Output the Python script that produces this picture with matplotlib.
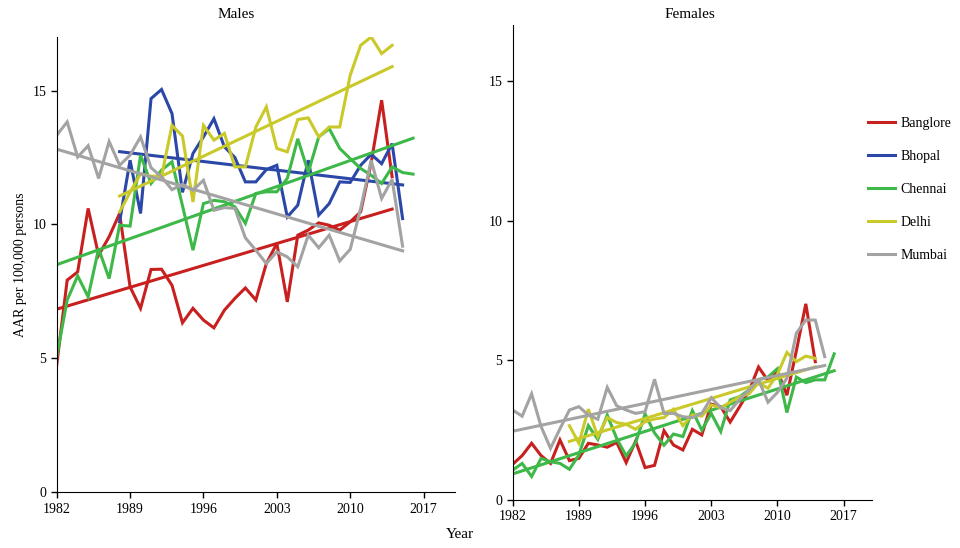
import matplotlib.pyplot as plt
import numpy as np

plt.rcParams['font.family'] = ['Liberation Serif', 'DejaVu Serif']

cities = ['Banglore', 'Bhopal', 'Chennai', 'Delhi', 'Mumbai']
colors = ['#c8201f', '#2b47a8', '#3db849', '#c9c92a', '#a3a3a3']

# Males, AAR per 100,000 persons
banglore_m_start = 1982
banglore_m = [4.75, 7.92, 8.23, 10.6, 8.85, 9.54, 10.41, 7.67, 6.87, 8.32,
              8.33, 7.73, 6.33, 6.87, 6.43, 6.14, 6.8, 7.24, 7.63, 7.18,
              8.54, 9.29, 7.11, 9.6, 9.79, 10.06, 9.97, 9.79, 10.1, 10.47,
              12.3, 14.64, 11.78]
bhopal_m_start = 1988
bhopal_m = [10.1, 12.4, 10.41, 14.7, 15.04, 14.14, 11.2, 12.65, 13.27, 13.95,
            12.9, 12.5, 11.59, 11.59, 12.05, 12.21, 10.28, 10.72, 12.4, 10.35,
            10.78, 11.59, 11.57, 12.21, 12.62, 12.27, 13.02, 10.22]
chennai_m_start = 1982
chennai_m = [5.06, 7.18, 8.08, 7.3, 9.1, 7.98, 9.97, 9.94, 12.59, 11.53,
             12.03, 12.34, 10.7, 9.04, 10.78, 10.9, 10.85, 10.66, 10.04, 11.16,
             11.22, 11.22, 11.72, 13.2, 11.95, 13.27, 13.58, 12.84, 12.46, 12.09,
             11.84, 11.53, 12.15, 11.94, 11.88]
delhi_m_start = 1988
delhi_m = [10.47, 11.2, 11.9, 11.8, 11.8, 13.7, 13.3, 10.84, 13.7, 13.15,
           13.4, 12.15, 12.15, 13.64, 14.39, 12.84, 12.71, 13.92, 13.98, 13.27,
           13.64, 13.64, 15.57, 16.69, 17.0, 16.38, 16.69]
mumbai_m_start = 1982
mumbai_m = [13.33, 13.83, 12.52, 12.94, 11.72, 13.1, 12.21, 12.59, 13.27, 12.12,
            11.78, 11.3, 11.5, 11.28, 11.65, 10.53, 10.63, 10.6, 9.5, 9.04,
            8.54, 8.98, 8.79, 8.42, 9.6, 9.13, 9.6, 8.64, 9.07, 10.6,
            12.4, 10.97, 11.68, 9.19]

# Females (no Bhopal series)
banglore_f_start = 1982
banglore_f = [1.28, 1.59, 2.03, 1.59, 1.31, 2.15, 1.41, 1.49, 2.03, 1.97,
              1.89, 2.06, 1.34, 2.11, 1.16, 1.24, 2.48, 1.97, 1.79, 2.53,
              2.33, 3.43, 3.34, 2.79, 3.34, 3.91, 4.76, 4.27, 4.62, 3.75,
              5.34, 7.02, 4.95]
chennai_f_start = 1982
chennai_f = [1.07, 1.31, 0.84, 1.49, 1.37, 1.31, 1.1, 1.61, 2.66, 2.17,
             3.04, 2.2, 1.58, 2.05, 3.08, 2.4, 1.96, 2.36, 2.27, 3.2,
             2.5, 3.1, 2.45, 3.58, 3.7, 3.94, 4.3, 4.4, 4.7, 3.13,
             4.4, 4.2, 4.3, 4.3, 5.23]
delhi_f_start = 1988
delhi_f = [2.66, 2.03, 3.25, 2.27, 2.95, 2.77, 2.71, 2.53, 2.8, 2.9,
           2.95, 3.25, 2.66, 3.05, 3.0, 3.4, 3.3, 3.5, 3.7, 3.8,
           4.2, 4.0, 4.5, 5.28, 4.95, 5.15, 5.07]
mumbai_f_start = 1982
mumbai_f = [3.22, 3.0, 3.8, 2.63, 1.85, 2.55, 3.22, 3.34, 3.04, 2.89,
            4.03, 3.37, 3.22, 3.1, 3.16, 4.32, 3.1, 3.1, 2.98, 2.95,
            3.1, 3.66, 3.3, 3.2, 3.6, 3.94, 4.3, 3.5, 3.85, 4.36,
            5.97, 6.44, 6.44, 5.13]

males = {
    'Banglore': (banglore_m_start, banglore_m),
    'Bhopal': (bhopal_m_start, bhopal_m),
    'Chennai': (chennai_m_start, chennai_m),
    'Delhi': (delhi_m_start, delhi_m),
    'Mumbai': (mumbai_m_start, mumbai_m),
}
females = {
    'Banglore': (banglore_f_start, banglore_f),
    'Chennai': (chennai_f_start, chennai_f),
    'Delhi': (delhi_f_start, delhi_f),
    'Mumbai': (mumbai_f_start, mumbai_f),
}
# linear trend lines shown in each panel
trend_m = ['Banglore', 'Bhopal', 'Chennai', 'Delhi', 'Mumbai']
trend_f = ['Chennai', 'Delhi', 'Mumbai']

xticks = [1982, 1989, 1996, 2003, 2010, 2017]
yticks = [0, 5, 10, 15]

W, H = 960, 548
fig = plt.figure(figsize=(9.6, 5.48), dpi=100)
ax_m = fig.add_axes([56.7 / W, 1 - 492.3 / H, (455 - 56.7) / W, (492.3 - 37) / H])
ax_f = fig.add_axes([512.7 / W, 1 - 500 / H, (872 - 512.7) / W, (500 - 25) / H])


def draw(ax, data, trends):
    handles = {}
    for city, col in zip(cities, colors):
        if city not in data:
            continue
        start, vals = data[city]
        yrs = np.arange(start, start + len(vals))
        ln, = ax.plot(yrs, vals, color=col, lw=2.2, solid_joinstyle='miter')
        if city in trends:
            k, b = np.polyfit(yrs, vals, 1)
            ax.plot([yrs[0], yrs[-1]], [k * yrs[0] + b, k * yrs[-1] + b], color=col, lw=2.2)
        handles[city] = ln
    ax.set_xlim(1982, 2020)
    ax.set_ylim(0, 17)
    ax.set_xticks(xticks)
    ax.set_yticks(yticks)
    ax.spines['top'].set_visible(False)
    ax.spines['right'].set_visible(False)
    ax.tick_params(labelsize=10, direction='out', length=4, width=1)
    return handles


h = draw(ax_m, males, trend_m)
draw(ax_f, females, trend_f)

ax_m.set_ylabel('AAR per 100,000 persons', fontsize=10, labelpad=4)
fig.text(236 / W, 1 - 15 / H, 'Males', ha='center', va='center', fontsize=11)
fig.text(690 / W, 1 - 15 / H, 'Females', ha='center', va='center', fontsize=11)
fig.text(460 / W, 1 - 535 / H, 'Year', ha='center', va='center', fontsize=11)

fig.legend([h[c] for c in cities], cities, loc='upper left',
           bbox_to_anchor=(855 / W, 1 - 104 / H), frameon=False, fontsize=10,
           handlelength=2.0, handletextpad=0.4, labelspacing=1.45)

fig.savefig('out.png', dpi=100)
